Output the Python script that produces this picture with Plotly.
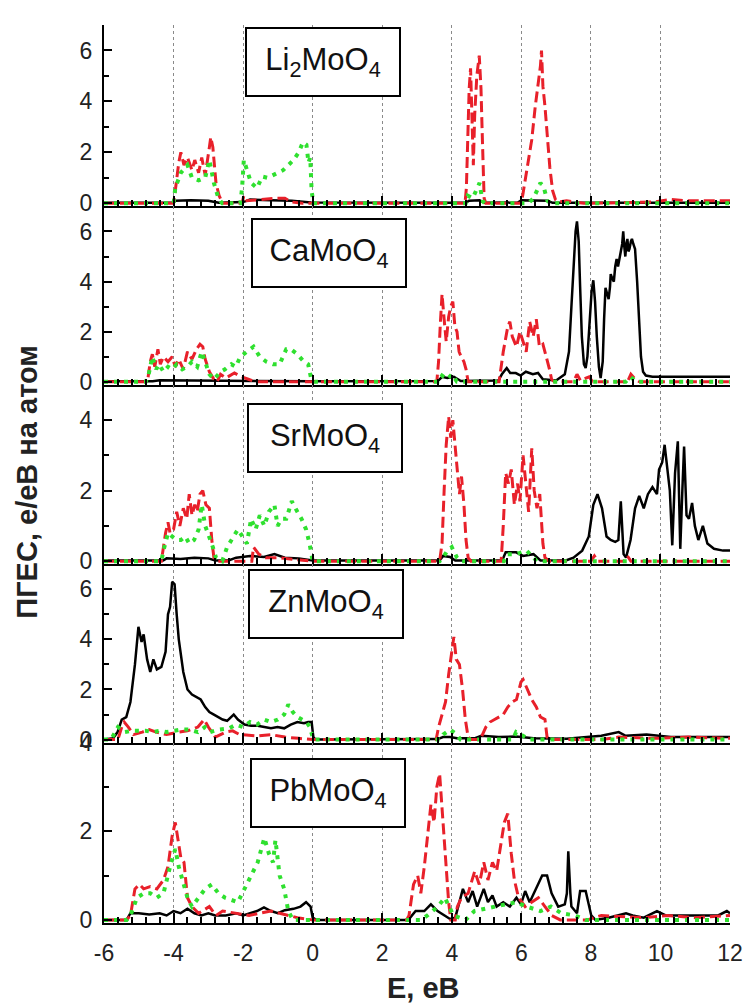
import plotly.graph_objects as go

# ---------------- data (E in eV, partial DOS in e/eV per atom) ----------------
PANEL_NAMES = ["Li<sub>2</sub>MoO<sub>4</sub>", "CaMoO<sub>4</sub>", "SrMoO<sub>4</sub>",
               "ZnMoO<sub>4</sub>", "PbMoO<sub>4</sub>"]
X_TICKS = [-6, -4, -2, 0, 2, 4, 6, 8, 10, 12]
X_TITLE = "E, eB"
Y_TITLE = "ПГЕС, е/еВ на атом"

LI_BLACK = [(-6,0.02),(-4.0,0.02),(-3.95,0.1),(-3.5,0.12),(-3.0,0.1),(-2.7,0.02),(-2.0,0.05),(-1.8,0.15),
            (-1.2,0.12),(-0.6,0.1),(-0.05,0.03),(4.4,0.02),(4.5,0.1),(4.8,0.12),(4.95,0.02),(5.9,0.03),
            (6.0,0.12),(6.75,0.1),(6.9,0.02),(12,0.02)]
LI_RED = [(-6,0),(-4.0,0),(-3.95,0.5),(-3.85,1.6),(-3.79,2.0),(-3.70,1.5),(-3.60,1.8),(-3.47,1.3),(-3.39,1.7),
          (-3.28,1.2),(-3.19,1.8),(-3.09,1.1),(-2.97,2.2),(-2.93,2.6),(-2.87,2.2),(-2.78,0.8),(-2.69,0.3),
          (-2.59,0),(-2.03,0),(-1.98,0.3),(-1.89,0.1),(-1.1,0.2),(-0.8,0.2),(-0.6,0.05),(-0.3,0),
          (4.38,0),(4.42,0.6),(4.46,2.5),(4.50,4.5),(4.54,5.3),(4.58,3.5),(4.62,1.5),(4.66,3.5),(4.72,5.0),
          (4.79,5.8),(4.84,4.5),(4.87,3.0),(4.90,1.0),(4.93,0.2),(4.98,0),(6.0,0),(6.05,0.4),(6.11,0.9),
          (6.2,1.5),(6.3,2.5),(6.4,3.8),(6.49,4.8),(6.55,5.4),(6.58,6.0),(6.62,4.6),(6.68,3.8),(6.74,2.6),
          (6.82,1.4),(6.9,0.5),(6.98,0.15),(7.06,0.05),(7.3,0.1),(7.8,0),(9.8,0.05),(10.3,0.15),(10.8,0.1),(12,0.1)]
LI_GREEN = [(-6,0),(-4.0,0),(-3.95,0.6),(-3.79,1.2),(-3.60,1.5),(-3.47,1.0),(-3.28,0.9),(-3.09,1.0),(-2.97,1.7),
            (-2.84,0.8),(-2.71,0.2),(-2.6,0),(-2.08,0),(-2.03,0.6),(-1.98,1.7),(-1.89,1.3),(-1.77,0.8),
            (-1.6,0.6),(-1.45,1.05),(-1.3,1.0),(-1.15,1.1),(-1.0,1.2),(-0.85,1.3),(-0.7,1.5),(-0.55,1.7),
            (-0.4,2.0),(-0.28,2.4),(-0.18,2.3),(-0.12,1.6),(-0.07,1.8),(-0.03,0.5),(0.02,0),(4.4,0),
            (4.46,0.3),(4.6,0.2),(4.7,0.5),(4.8,0.8),(4.88,0.1),(4.95,0),(6.2,0),(6.35,0.2),(6.45,0.5),
            (6.55,0.8),(6.65,0.6),(6.75,0.1),(6.85,0),(12,0)]

CA_BLACK = [(-6,0.02),(-4.6,0.02),(-4.4,0.06),(-3.5,0.05),(-2.9,0.05),(-2.0,0.03),(0.0,0.02),(3.6,0.03),
            (3.72,0.2),(3.87,0.15),(4.06,0.2),(4.26,0.03),(5.34,0.05),(5.44,0.3),(5.58,0.55),(5.68,0.35),
            (5.84,0.35),(5.98,0.25),(6.13,0.4),(6.33,0.3),(6.48,0.35),(6.62,0.1),(7.0,0.05),(7.25,0.3),
            (7.37,1.2),(7.44,3.0),(7.5,4.8),(7.56,6.0),(7.6,6.4),(7.65,5.6),(7.69,3.8),(7.74,1.8),(7.8,0.7),
            (7.85,0.55),(7.9,1.0),(7.96,2.5),(8.02,3.6),(8.07,4.05),(8.12,3.2),(8.17,1.8),(8.23,0.6),
            (8.28,0.15),(8.34,0.8),(8.38,2.5),(8.42,3.75),(8.47,3.5),(8.51,3.3),(8.55,3.8),(8.57,4.3),
            (8.62,4.1),(8.66,4.0),(8.70,4.6),(8.74,4.9),(8.78,4.6),(8.82,5.0),(8.86,5.2),(8.9,5.5),(8.93,6.0),
            (8.96,5.4),(8.99,5.0),(9.02,5.5),(9.05,5.7),(9.08,5.2),(9.11,5.3),(9.15,5.6),(9.18,5.7),(9.22,5.5),
            (9.27,5.3),(9.33,4.0),(9.39,2.0),(9.44,1.0),(9.5,0.4),(9.58,0.25),(9.77,0.2),(12,0.2)]
CA_RED = [(-6,0),(-4.75,0),(-4.67,0.8),(-4.61,1.1),(-4.54,0.6),(-4.45,1.3),(-4.38,0.7),(-4.29,1.0),(-4.16,0.8),
          (-4.04,1.0),(-3.95,0.6),(-3.85,0.9),(-3.72,0.5),(-3.60,1.2),(-3.47,0.9),(-3.34,1.3),(-3.24,1.5),
          (-3.16,1.4),(-3.09,0.9),(-2.97,0.4),(-2.84,0.1),(-2.75,0),(-2.65,0.3),(-2.5,0.15),(-2.25,0.35),
          (-2.05,0.2),(-1.85,0.1),(-1.65,0),(3.57,0),(3.62,0.8),(3.67,2.3),(3.72,3.5),(3.78,2.5),(3.84,1.6),
          (3.91,2.6),(3.97,3.0),(4.03,3.2),(4.09,2.2),(4.15,2.0),(4.21,1.2),(4.27,1.0),(4.35,0.8),(4.41,0.5),
          (4.47,0),(5.36,0),(5.42,0.6),(5.48,1.2),(5.61,2.2),(5.67,2.4),(5.74,1.8),(5.86,1.4),(5.96,2.0),
          (6.05,1.6),(6.14,1.2),(6.24,2.4),(6.34,1.8),(6.43,2.5),(6.52,1.4),(6.62,1.5),(6.72,1.0),(6.81,0.5),
          (6.87,0.1),(6.95,0),(7.5,0),(7.6,0.3),(7.7,0.05),(7.95,0.2),(8.05,0),(9.05,0),(9.15,0.3),(9.28,0.1),
          (9.4,0),(12,0)]
CA_GREEN = [(-6,0),(-4.8,0),(-4.73,0.2),(-4.61,1.0),(-4.50,0.5),(-4.42,0.7),(-4.29,0.4),(-4.16,0.6),(-4.04,0.5),
            (-3.91,0.7),(-3.75,0.5),(-3.60,0.6),(-3.47,0.8),(-3.32,0.6),(-3.19,1.2),(-3.09,0.8),(-2.97,0.3),
            (-2.84,0.1),(-2.65,0.4),(-2.52,0.5),(-2.34,0.7),(-2.21,0.6),(-2.08,1.0),(-1.89,1.2),(-1.70,1.4),
            (-1.52,1.0),(-1.33,0.8),(-1.14,0.7),(-0.95,0.7),(-0.76,1.3),(-0.63,1.3),(-0.44,1.1),(-0.25,0.8),
            (-0.13,0.7),(-0.04,0.1),(0.05,0),(3.6,0),(3.72,0.25),(3.87,0.1),(4.0,0.3),(4.15,0),(9.0,0),
            (9.14,0.2),(9.3,0),(12,0)]

SR_BLACK = [(-6,0.02),(-4.3,0.02),(-4.2,0.08),(-3.8,0.06),(-3.4,0.1),(-3.0,0.08),(-2.8,0.02),(-2.4,0.03),
            (-2.2,0.1),(-1.8,0.15),(-1.4,0.12),(-1.1,0.2),(-0.8,0.1),(-0.4,0.08),(0,0.02),(3.65,0.02),
            (3.75,0.15),(3.95,0.12),(4.1,0.02),(5.45,0.02),(5.55,0.25),(5.85,0.25),(6.05,0.15),(6.35,0.2),
            (6.55,0.02),(7.3,0.03),(7.5,0.1),(7.75,0.3),(7.94,0.7),(8.07,1.6),(8.19,1.9),(8.32,1.5),(8.45,0.7),
            (8.57,0.6),(8.70,0.55),(8.79,0.6),(8.86,1.7),(8.94,0.2),(9.01,0.1),(9.14,0.6),(9.27,1.5),
            (9.39,1.85),(9.52,1.5),(9.64,1.9),(9.77,2.1),(9.90,1.9),(9.96,2.6),(10.05,2.8),(10.12,3.3),
            (10.21,2.6),(10.27,2.0),(10.34,0.45),(10.42,2.5),(10.50,3.4),(10.57,0.35),(10.63,2.0),(10.68,3.25),
            (10.75,1.3),(10.82,1.2),(10.91,1.65),(10.99,1.0),(11.09,0.6),(11.22,1.0),(11.35,0.5),(11.54,0.35),
            (11.8,0.3),(12,0.3)]
SR_RED = [(-6,0),(-4.35,0),(-4.23,0.8),(-4.16,1.1),(-4.10,0.8),(-4.0,0.9),(-3.91,1.4),(-3.82,1.0),(-3.72,1.5),
          (-3.62,1.2),(-3.55,1.9),(-3.47,1.3),(-3.39,1.6),(-3.32,1.4),(-3.24,1.9),(-3.16,2.0),(-3.07,1.6),
          (-2.97,1.5),(-2.90,0.6),(-2.84,0.1),(-2.75,0),(-1.75,0),(-1.7,0.4),(-1.55,0.2),(-1.35,0.1),
          (-1.0,0.1),(-0.5,0.05),(0,0),(3.65,0),(3.72,0.5),(3.78,2.0),(3.84,3.3),(3.91,4.1),(3.97,3.5),
          (4.03,4.0),(4.10,3.2),(4.16,2.6),(4.22,1.9),(4.28,2.4),(4.35,1.6),(4.41,0.6),(4.47,0.1),(4.55,0),
          (5.42,0),(5.48,1.0),(5.55,2.5),(5.63,2.2),(5.71,2.6),(5.80,1.6),(5.89,2.2),(5.96,1.7),(6.05,3.0),
          (6.14,2.1),(6.21,1.4),(6.30,3.2),(6.37,2.0),(6.45,1.5),(6.53,1.9),(6.62,0.5),(6.68,0.1),(6.8,0),
          (8.0,0),(8.1,0.15),(8.2,0),(8.95,0),(9.05,0.15),(9.15,0),(12,0)]
SR_GREEN = [(-6,0),(-4.35,0),(-4.29,0.3),(-4.16,0.8),(-4.04,0.7),(-3.91,0.6),(-3.79,0.6),(-3.66,0.7),(-3.55,0.5),
            (-3.41,0.6),(-3.28,0.9),(-3.19,1.6),(-3.09,1.0),(-2.97,0.7),(-2.87,0.4),(-2.78,0.1),(-2.6,0),
            (-2.46,0.4),(-2.34,0.6),(-2.15,0.9),(-2.02,0.7),(-1.89,0.5),(-1.77,1.2),(-1.64,0.9),(-1.52,1.3),
            (-1.39,1.0),(-1.26,1.4),(-1.10,1.6),(-1.01,1.0),(-0.89,1.2),(-0.76,1.2),(-0.60,1.7),(-0.44,1.4),
            (-0.32,1.2),(-0.19,0.9),(-0.09,0.5),(0.0,0),(3.65,0),(3.75,0.1),(3.87,0.3),(4.0,0.4),(4.15,0.1),
            (4.25,0),(5.5,0),(5.6,0.2),(5.85,0.2),(6.15,0.3),(6.35,0.1),(6.45,0),(12,0)]

ZN_BLACK = [(-6,0),(-5.85,0.02),(-5.74,0.05),(-5.61,0.3),(-5.49,0.8),(-5.36,0.9),(-5.24,1.5),(-5.11,3.0),
            (-5.01,4.5),(-4.92,3.9),(-4.86,4.2),(-4.76,3.2),(-4.67,2.7),(-4.58,3.2),(-4.48,2.8),(-4.35,2.9),
            (-4.23,3.5),(-4.16,5.0),(-4.10,5.3),(-4.04,6.3),(-3.97,6.2),(-3.91,5.0),(-3.85,4.0),(-3.72,2.7),
            (-3.60,2.0),(-3.47,1.8),(-3.34,1.7),(-3.22,1.6),(-3.09,1.3),(-2.97,1.1),(-2.84,1.0),(-2.71,0.9),
            (-2.59,0.8),(-2.46,0.75),(-2.27,1.0),(-2.15,0.8),(-1.96,0.6),(-1.77,0.55),(-1.58,0.55),(-1.39,0.5),
            (-1.20,0.45),(-1.01,0.5),(-0.82,0.45),(-0.63,0.6),(-0.44,0.7),(-0.25,0.65),(-0.13,0.7),(-0.03,0.7),
            (0.02,0.1),(0.08,0),(3.6,0.02),(3.75,0.1),(3.95,0.1),(4.15,0.05),(4.65,0.05),(4.85,0.15),
            (5.35,0.1),(5.85,0.12),(6.35,0.05),(7.3,0.03),(7.8,0.1),(8.3,0.15),(8.8,0.3),(9.0,0.15),(9.6,0.2),
            (10.3,0.1),(11.3,0.1),(12,0.1)]
ZN_RED = [(-6,0),(-5.6,0),(-5.49,0.5),(-5.42,0.7),(-5.3,0.5),(-5.15,0.2),(-4.9,0.3),(-4.7,0.4),(-4.5,0.3),
          (-4.2,0.2),(-3.85,0.3),(-3.6,0.35),(-3.3,0.5),(-3.12,0.8),(-3.0,0.5),(-2.8,0.1),(-2.5,0.3),(-2.3,0.35),
          (-2.1,0.2),(-1.6,0.15),(-1.2,0.2),(-0.8,0.1),(-0.4,0.05),(0,0),(3.55,0),(3.62,0.5),(3.72,1.0),
          (3.82,1.5),(3.91,2.6),(3.99,3.5),(4.06,4.1),(4.13,3.2),(4.22,3.0),(4.31,2.0),(4.39,0.8),(4.47,0.1),
          (4.55,0),(4.8,0),(4.85,0.1),(4.98,0.5),(5.10,0.7),(5.23,0.8),(5.36,0.9),(5.48,1.0),(5.61,1.3),
          (5.74,1.5),(5.86,1.6),(5.99,2.3),(6.05,2.4),(6.18,2.0),(6.30,1.6),(6.43,1.3),(6.55,0.9),(6.68,0.8),
          (6.74,0.1),(6.82,0),(8.3,0),(8.8,0.1),(9.8,0.05),(10.8,0.1),(12,0.05)]
ZN_GREEN = [(-6,0),(-5.8,0),(-5.6,0.5),(-5.4,0.3),(-5.2,0.35),(-5.0,0.35),(-4.8,0.35),(-4.6,0.3),(-4.4,0.35),
            (-4.2,0.3),(-4.0,0.35),(-3.8,0.4),(-3.55,0.4),(-3.3,0.3),(-3.1,0.5),(-2.95,0.3),(-2.7,0.4),
            (-2.4,0.45),(-2.2,0.6),(-2.0,0.5),(-1.8,0.7),(-1.6,0.6),(-1.4,0.8),(-1.2,0.7),(-1.0,0.8),
            (-0.82,1.0),(-0.7,1.4),(-0.57,1.1),(-0.44,0.9),(-0.3,0.8),(-0.18,0.7),(-0.08,0.5),(0.02,0),
            (3.65,0),(3.75,0.2),(3.95,0.4),(4.15,0.2),(4.25,0),(5.75,0),(5.85,0.3),(6.15,0.1),(6.25,0),(12,0)]

PB_BLACK = [(-6,0),(-5.35,0),(-5.24,0.15),(-5.0,0.15),(-4.7,0.12),(-4.4,0.15),(-4.2,0.1),(-4.0,0.2),(-3.8,0.15),
            (-3.6,0.25),(-3.4,0.15),(-3.2,0.1),(-3.0,0.15),(-2.8,0.1),(-2.5,0.1),(-2.2,0.15),(-2.0,0.1),
            (-1.8,0.15),(-1.6,0.2),(-1.4,0.28),(-1.2,0.2),(-1.0,0.15),(-0.8,0.22),(-0.55,0.25),(-0.35,0.3),
            (-0.19,0.4),(-0.06,0.3),(0.0,0.05),(0.1,0),(2.75,0),(2.96,0.2),(3.21,0.2),(3.40,0.35),(3.59,0.2),
            (3.78,0.1),(3.95,0.02),(4.1,0.05),(4.22,0.4),(4.32,0.7),(4.47,0.4),(4.60,0.65),(4.73,0.3),
            (4.92,0.7),(5.04,0.4),(5.17,0.55),(5.29,0.3),(5.48,0.4),(5.67,0.3),(5.86,0.5),(5.99,0.35),
            (6.11,0.65),(6.24,0.4),(6.43,0.7),(6.60,1.0),(6.74,1.0),(6.87,0.6),(7.06,0.3),(7.25,0.35),
            (7.31,0.6),(7.35,1.55),(7.41,0.6),(7.44,0.3),(7.60,0.15),(7.69,0.65),(7.85,0.65),(8.01,0.1),
            (8.13,0.0),(8.51,0.05),(9.01,0.15),(9.2,0.1),(9.52,0.05),(9.90,0.2),(10.15,0.1),(10.68,0.1),
            (11.16,0.1),(11.66,0.1),(11.91,0.2),(12,0.15)]
PB_RED = [(-6,0),(-5.35,0),(-5.24,0.1),(-5.11,0.7),(-4.98,0.8),(-4.86,0.7),(-4.67,0.75),(-4.48,0.7),(-4.29,0.9),
          (-4.16,1.2),(-4.04,1.9),(-3.95,2.2),(-3.87,1.8),(-3.79,1.4),(-3.70,1.3),(-3.60,0.5),(-3.47,0.3),
          (-3.28,0.15),(-2.97,0.3),(-2.78,0.1),(-2.59,0.2),(-1.83,0.1),(-1.2,0.2),(-0.7,0.1),(-0.44,0.05),
          (0,0),(2.7,0),(2.77,0.1),(2.90,0.8),(3.02,1.0),(3.11,0.6),(3.21,1.2),(3.30,1.9),(3.40,2.6),
          (3.49,2.2),(3.57,3.0),(3.65,3.3),(3.74,2.3),(3.82,1.2),(3.91,0.4),(3.97,0),(4.1,0),(4.16,0.3),
          (4.28,0.5),(4.47,0.6),(4.66,1.1),(4.79,0.8),(4.92,1.3),(5.04,0.9),(5.17,1.3),(5.29,1.1),(5.42,1.8),
          (5.51,2.2),(5.61,2.4),(5.71,1.5),(5.80,0.9),(5.92,0.5),(6.11,0.3),(6.30,0.4),(6.49,0.5),(6.68,0.3),
          (6.87,0.1),(7.12,0),(7.9,0),(8.3,0.1),(9.5,0.05),(10.2,0.1),(11.0,0.05),(12,0.1)]
PB_GREEN = [(-6,0),(-5.35,0),(-5.24,0.1),(-5.05,0.5),(-4.86,0.6),(-4.67,0.6),(-4.48,0.5),(-4.29,0.6),(-4.10,1.2),
            (-3.95,1.6),(-3.85,1.2),(-3.72,0.8),(-3.60,0.5),(-3.47,0.3),(-3.28,0.5),(-3.09,0.7),(-2.90,0.8),
            (-2.71,0.6),(-2.52,0.5),(-2.34,0.45),(-2.15,0.4),(-1.96,0.7),(-1.77,1.0),(-1.58,1.3),(-1.39,1.85),
            (-1.26,1.5),(-1.14,1.3),(-1.07,1.8),(-0.95,1.0),(-0.82,0.7),(-0.70,0.2),(-0.57,0),(3.1,0),
            (3.3,0.1),(3.6,0.3),(3.8,0.5),(4.05,0.1),(4.4,0),(4.65,0.2),(5.3,0.3),(5.85,0.4),(6.15,0.3),
            (6.55,0.2),(6.85,0.3),(7.15,0.15),(7.55,0.1),(7.85,0),(12,0)]

PANEL_SERIES = [
    (LI_BLACK, LI_RED, LI_GREEN),
    (CA_BLACK, CA_RED, CA_GREEN),
    (SR_BLACK, SR_RED, SR_GREEN),
    (ZN_BLACK, ZN_RED, ZN_GREEN),
    (PB_BLACK, PB_RED, PB_GREEN),
]
Y_TOPS = [7, 7, 5, 7, 4]

# ---------------- styling / layout ----------------
FONT = "Liberation Sans, Arial, sans-serif"
W, H = 755, 1004
ML, MR, MT, MB = 104, 19, 17, 81
PW, PH = W - ML - MR, H - MT - MB
panel_px = [(17, 200), (200, 380), (380, 561), (561, 741), (741, 923)]
y_bottoms = [-0.12, -0.12, -0.085, -0.12, -0.07]
box_px = [(325, 54), (331, 247), (327, 434), (328, 601), (330, 792)]

def py2paper(py):
    return (H - MB - py) / PH

def px2paper(px):
    return (px - ML) / PW

RED = "#e8202a"
GREEN = "#2fe02f"

fig = go.Figure()
for i, (blk, red, grn) in enumerate(PANEL_SERIES):
    n = i + 1
    xa = "x" if n == 1 else f"x{n}"
    ya = "y" if n == 1 else f"y{n}"
    for series, color, width, dash in [
        (blk, "black", 2.5, "solid"),
        (red, RED, 3.0, "11px,5px"),
        (grn, GREEN, 4.0, "4px,6px"),
    ]:
        fig.add_trace(go.Scatter(
            x=[p[0] for p in series], y=[p[1] for p in series],
            mode="lines", line=dict(color=color, width=width, dash=dash),
            xaxis=xa, yaxis=ya, showlegend=False, hoverinfo="skip"))

    top_px, bot_px = panel_px[i]
    xkey = "xaxis" if n == 1 else f"xaxis{n}"
    ykey = "yaxis" if n == 1 else f"yaxis{n}"
    xaxis = dict(
        domain=[0, 1], anchor=ya, range=[-6, 12],
        tickmode="array", tickvals=X_TICKS, ticktext=[str(t) for t in X_TICKS],
        ticks="inside", ticklen=10, tickwidth=2, tickcolor="black",
        minor=dict(ticks="inside", ticklen=6, tickwidth=1.5, tickcolor="black",
                   dtick=0.4, tick0=-6, showgrid=False),
        showgrid=True, gridcolor="#8a8a8a", gridwidth=1, griddash="dot",
        zeroline=False, showline=True, linecolor="black", linewidth=2,
        showticklabels=(n == 5),
        tickfont=dict(family=FONT, size=23, color="#222"),
        ticklabelstandoff=8,
    )
    if n > 1:
        xaxis["matches"] = "x"
    fig.update_layout({xkey: xaxis})
    fig.update_layout({ykey: dict(
        domain=[py2paper(bot_px), py2paper(top_px)], anchor=xa,
        range=[y_bottoms[i], Y_TOPS[i]],
        tickmode="linear", tick0=0, dtick=2,
        ticks="inside", ticklen=8, tickwidth=2, tickcolor="black",
        minor=dict(ticks="inside", ticklen=5, tickwidth=1.5, tickcolor="black", dtick=1, tick0=0),
        showgrid=False, zeroline=False, showline=True, linecolor="black", linewidth=2,
        tickfont=dict(family=FONT, size=23, color="#222"),
        ticklabelstandoff=5,
    )})

annotations = []
for i, name in enumerate(PANEL_NAMES):
    cx, cy = box_px[i]
    annotations.append(dict(
        text=name, xref="paper", yref="paper", x=px2paper(cx), y=py2paper(cy),
        xanchor="center", yanchor="middle", showarrow=False,
        font=dict(family=FONT, size=31, color="#111"),
        bordercolor="black", borderwidth=2, borderpad=1, bgcolor="white",
        width=150, height=64, align="center"))
annotations.append(dict(
    text=f"<b>{X_TITLE}</b>", xref="paper", yref="paper", x=px2paper(427), y=py2paper(989),
    xanchor="center", yanchor="middle", showarrow=False,
    font=dict(family=FONT, size=29, color="#222")))
annotations.append(dict(
    text=f"<b>{Y_TITLE}</b>", xref="paper", yref="paper", x=px2paper(26), y=py2paper(478),
    xanchor="center", yanchor="middle", showarrow=False, textangle=-90,
    font=dict(family=FONT, size=29, color="#222")))

fig.update_layout(
    width=W, height=H,
    margin=dict(l=ML, r=MR, t=MT, b=MB, pad=0),
    paper_bgcolor="white", plot_bgcolor="white",
    annotations=annotations,
    showlegend=False,
)

fig.write_html("out.html")
